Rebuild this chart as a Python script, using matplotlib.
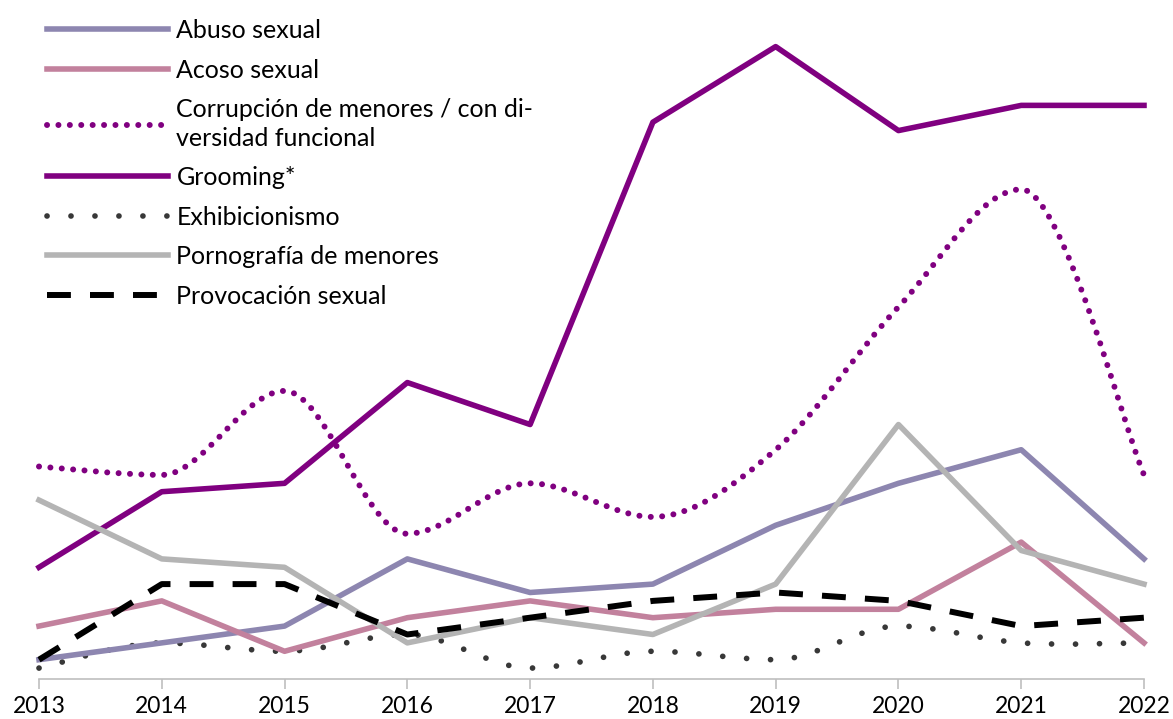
import matplotlib
matplotlib.use("Agg")
import matplotlib.pyplot as plt
from matplotlib.lines import Line2D
from matplotlib.path import Path
from matplotlib.patches import PathPatch

plt.rcParams['font.family'] = ['Lato', 'DejaVu Sans']

years = [2013, 2014, 2015, 2016, 2017, 2018, 2019, 2020, 2021, 2022]
abuso = [3, 5, 7, 15, 11, 12, 19, 24, 28, 15]
acoso = [7, 10, 4, 8, 10, 8, 9, 9, 17, 5]
corrupcion = [26, 25, 35, 18, 24, 20, 28, 45, 59, 25]
grooming = [14, 23, 24, 36, 31, 67, 76, 66, 69, 69]
exhibicionismo = [2, 5, 4, 6, 2, 4, 3, 7, 5, 5]
pornografia = [22, 15, 14, 5, 8, 6, 12, 31, 16, 12]
provocacion = [3, 12, 12, 6, 8, 10, 11, 10, 7, 8]

labels = ["Abuso sexual", "Acoso sexual",
          "Corrupción de menores / con di-\nversidad funcional",
          "Grooming*", "Exhibicionismo", "Pornografía de menores",
          "Provocación sexual"]

c_abuso = "#8D86B0"
c_acoso = "#C2819D"
c_purple = "#800080"
c_exhib = "#383838"
c_porno = "#B4B4B4"

dot_purple = (0, (0.01, 1.9))
dot_exhib = (0, (0.01, 4.2))
dash_black = (0, (4, 3.2))


def smooth_path(xs, ys):
    # smoothed line (bezier), flat tangent at peaks and troughs
    n = len(xs)
    tang = []
    for i in range(n):
        a, b = max(i - 1, 0), min(i + 1, n - 1)
        if 0 < i < n - 1 and (ys[i] - ys[a]) * (ys[b] - ys[i]) < 0:
            tang.append(((xs[b] - xs[a]) / 2, 0))
        else:
            tang.append(((xs[b] - xs[a]) / 2, (ys[b] - ys[a]) / 2))
    verts = [(xs[0], ys[0])]
    codes = [Path.MOVETO]
    for i in range(n - 1):
        verts += [(xs[i] + tang[i][0] / 3, ys[i] + tang[i][1] / 3),
                  (xs[i + 1] - tang[i + 1][0] / 3, ys[i + 1] - tang[i + 1][1] / 3),
                  (xs[i + 1], ys[i + 1])]
        codes += [Path.CURVE4] * 3
    return Path(verts, codes)


fig = plt.figure(figsize=(11.73, 7.19), dpi=100)
ax = fig.add_axes([39 / 1173, 40 / 719, 1105 / 1173, 666 / 719])

lw = 4
ax.plot(years, abuso, color=c_abuso, lw=lw, clip_on=False)
ax.plot(years, acoso, color=c_acoso, lw=lw, clip_on=False)
ax.add_patch(PathPatch(smooth_path(years, corrupcion), fill=False, edgecolor=c_purple,
                       lw=4.3, linestyle=dot_purple, capstyle='round', clip_on=False))
ax.plot(years, grooming, color=c_purple, lw=lw, clip_on=False)
ax.add_patch(PathPatch(smooth_path(years, exhibicionismo), fill=False, edgecolor=c_exhib,
                       lw=4.1, linestyle=dot_exhib, capstyle='round', clip_on=False))
ax.plot(years, pornografia, color=c_porno, lw=lw, clip_on=False)
ax.plot(years, provocacion, color="black", lw=4.3, linestyle=dash_black, clip_on=False)

ax.set_xlim(2013, 2022)
ax.set_ylim(0.7, 80)
ax.set_xticks(years)
ax.set_xticklabels([str(y) for y in years], fontsize=16.5)
ax.set_yticks([])
for s in ["top", "right", "left"]:
    ax.spines[s].set_visible(False)
ax.spines["bottom"].set_color("#BFBFBF")
ax.spines["bottom"].set_linewidth(1.2)
ax.tick_params(axis="x", length=7, width=1.2, color="#BFBFBF", pad=5)

handles = [
    Line2D([], [], color=c_abuso, lw=lw),
    Line2D([], [], color=c_acoso, lw=lw),
    Line2D([], [], color=c_purple, lw=4.3, linestyle=dot_purple, dash_capstyle='round'),
    Line2D([], [], color=c_purple, lw=lw),
    Line2D([], [], color=c_exhib, lw=4.1, linestyle=dot_exhib, dash_capstyle='round'),
    Line2D([], [], color=c_porno, lw=lw),
    Line2D([], [], color="black", lw=4.3, linestyle=dash_black),
]
leg = fig.legend(handles, labels, loc="upper left", bbox_to_anchor=(47 / 1173, 1 - 19 / 719),
                 frameon=False, fontsize=18, handlelength=4.85, handletextpad=0.33,
                 labelspacing=0.66, borderpad=0, borderaxespad=0)
for t in leg.get_texts():
    t.set_linespacing(1.3)

fig.savefig("out.png", dpi=100)
